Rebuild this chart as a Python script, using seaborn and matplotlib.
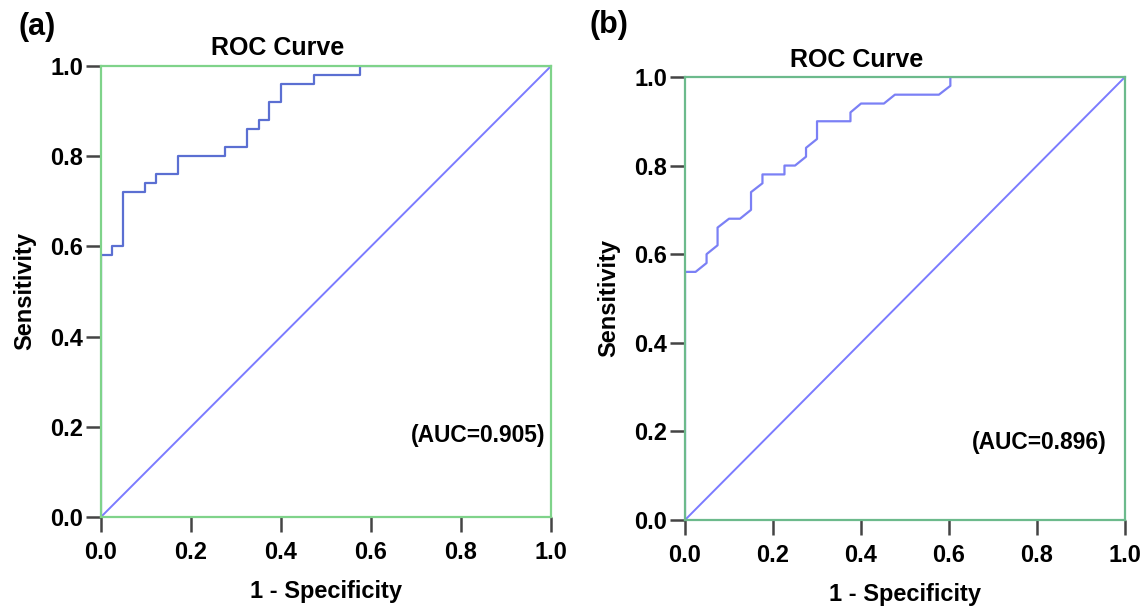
import matplotlib
matplotlib.use("Agg")
import matplotlib.pyplot as plt
import seaborn as sns
import pandas as pd

# ROC curve (a): vertices
fpr_a = [0.0, 0.0, 0.024, 0.024, 0.049, 0.049, 0.098, 0.098, 0.122, 0.122, 0.171, 0.171,
         0.276, 0.276, 0.325, 0.325, 0.350, 0.350, 0.374, 0.374, 0.400, 0.400,
         0.474, 0.474, 0.575, 0.575, 1.0]
tpr_a = [0.0, 0.58, 0.58, 0.60, 0.60, 0.72, 0.72, 0.74, 0.74, 0.76, 0.76, 0.80,
         0.80, 0.82, 0.82, 0.86, 0.86, 0.88, 0.88, 0.92, 0.92, 0.96,
         0.96, 0.98, 0.98, 1.0, 1.0]

# ROC curve (b)
fpr_b = [0.0, 0.0, 0.024, 0.049, 0.049, 0.074, 0.074, 0.100, 0.125, 0.150, 0.150,
         0.176, 0.176, 0.226, 0.226, 0.250, 0.275, 0.275, 0.300, 0.300, 0.376, 0.376,
         0.400, 0.452, 0.477, 0.577, 0.603, 0.603, 1.0]
tpr_b = [0.0, 0.56, 0.56, 0.58, 0.60, 0.62, 0.66, 0.68, 0.68, 0.70, 0.74,
         0.76, 0.78, 0.78, 0.80, 0.80, 0.82, 0.84, 0.86, 0.90, 0.90, 0.92,
         0.94, 0.94, 0.96, 0.96, 0.98, 1.0, 1.0]

auc_labels = ["(AUC=0.905)", "(AUC=0.896)"]
panel_labels = ["(a)", "(b)"]
ticks = [0.0, 0.2, 0.4, 0.6, 0.8, 1.0]

sns.set_style("white")
plt.rcParams['font.family'] = ['Liberation Sans', 'DejaVu Sans']
plt.rcParams['font.weight'] = 'bold'
plt.rcParams['text.color'] = 'black'

fig = plt.figure(figsize=(11.48, 6.06), dpi=100)
ax_a = fig.add_axes([0.088, 0.147, 0.392, 0.744])
ax_b = fig.add_axes([0.5967, 0.142, 0.3833, 0.731])

panels = [
    (ax_a, fpr_a, tpr_a, "#5b6fd2", "#7fd38a", 0.393, 1.040, 0.987, 0.18),
    (ax_b, fpr_b, tpr_b, "#7b80f5", "#6cba8c", 0.389, 1.038, 0.959, 0.174),
]

for i, (ax, fpr, tpr, curve_col, frame_col, tx, ty, ax_x, ax_y) in enumerate(panels):
    df = pd.DataFrame({"fpr": fpr, "tpr": tpr})
    sns.lineplot(data=df, x="fpr", y="tpr", sort=False, estimator=None,
                 color=curve_col, linewidth=1.6, ax=ax)
    ref = pd.DataFrame({"x": [0.0, 1.0], "y": [0.0, 1.0]})
    sns.lineplot(data=ref, x="x", y="y", color="#7b7bff", linewidth=1.4, ax=ax)
    ax.set_xlim(0, 1)
    ax.set_ylim(0, 1)
    ax.set_xticks(ticks)
    ax.set_yticks(ticks)
    ax.set_xticklabels([f"{t:.1f}" for t in ticks], fontsize=17, fontweight='bold', color='black')
    ax.set_yticklabels([f"{t:.1f}" for t in ticks], fontsize=17, fontweight='bold', color='black')
    ax.tick_params(bottom=True, left=True, direction='out', length=11, width=1.8,
                   color='#444444')
    ax.tick_params(axis='x', pad=6)
    ax.tick_params(axis='y', pad=2)
    for s in ax.spines.values():
        s.set_color(frame_col)
        s.set_linewidth(1.6)
    ax.set_xlabel("1 - Specificity", fontsize=17, fontweight='bold', labelpad=12, color='black')
    ax.set_ylabel("Sensitivity", fontsize=17, fontweight='bold', labelpad=10, color='black')
    ax.text(tx, ty, "ROC Curve", transform=ax.transAxes, ha='center', va='center',
            fontsize=18, fontweight='bold')
    ax.text(ax_x, ax_y, auc_labels[i], transform=ax.transAxes, ha='right', va='center',
            fontsize=16.4, fontweight='bold')
    ax.grid(False)

fig.text(0.032, 0.955, panel_labels[0], ha='center', va='center', fontsize=22, fontweight='bold')
fig.text(0.530, 0.958, panel_labels[1], ha='center', va='center', fontsize=22, fontweight='bold')

fig.savefig("out.png", dpi=100)
